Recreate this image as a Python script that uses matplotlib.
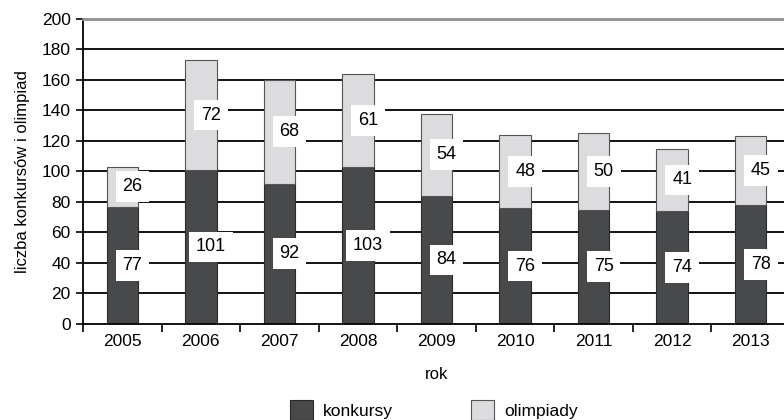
import numpy as np
import matplotlib.pyplot as plt

# dane
lata = ["2005", "2006", "2007", "2008", "2009", "2010", "2011", "2012", "2013"]
konkursy = [77, 101, 92, 103, 84, 76, 75, 74, 78]
olimpiady = [26, 72, 68, 61, 54, 48, 50, 41, 45]

c_dark = "#48494b"
c_light = "#dcdcde"

plt.rcParams["font.family"] = ["Liberation Sans", "DejaVu Sans"]
plt.rcParams["font.size"] = 12.5

fig = plt.figure(figsize=(7.84, 4.2), dpi=100)
ax = fig.add_axes([0.1059, 0.2286, 0.9015, 0.7262])

x = np.arange(len(lata))
w = 0.4
b1 = ax.bar(x, konkursy, w, color=c_dark, edgecolor="#2a2a2a", linewidth=0.8,
            zorder=2, label="konkursy")
b2 = ax.bar(x, olimpiady, w, bottom=konkursy, color=c_light, edgecolor="#555555",
            linewidth=0.8, zorder=2, label="olimpiady")

# etykiety wartości
for i in range(len(lata)):
    for val, base in ((konkursy[i], 0), (olimpiady[i], konkursy[i])):
        ax.text(x[i] + 0.13, base + val / 2, str(val), ha="center", va="center",
                fontsize=13, zorder=4,
                bbox=dict(facecolor="white", edgecolor="none", pad=5))

ax.set_xlim(-0.5, len(lata) - 0.5)
ax.set_ylim(0, 200)
ax.set_yticks(np.arange(0, 201, 20))
ax.set_xticks(x)
ax.set_xticklabels(lata)
ax.set_xticks(np.arange(-0.5, len(lata), 1.0), minor=True)
ax.tick_params(axis="x", which="major", length=0, pad=7)
ax.tick_params(axis="x", which="minor", length=6, width=1.2, direction="out")
ax.tick_params(axis="y", length=5, width=1.2, direction="out", pad=4)

for yv in range(20, 200, 20):
    ax.axhline(yv, color="black", lw=1.3, zorder=1)

ax.spines["top"].set_color("#909090")
ax.spines["top"].set_linewidth(2)
ax.spines["right"].set_visible(False)
ax.spines["left"].set_linewidth(1.3)
ax.spines["bottom"].set_linewidth(1.3)

ax.set_xlabel("rok", labelpad=13, fontsize=12)
ax.set_ylabel("liczba konkursów i olimpiad", labelpad=8, fontsize=12)

fig.legend(handles=[b1, b2], loc="center", bbox_to_anchor=(0.553, 0.024), ncol=2,
           frameon=False, handlelength=1.35, handleheight=1.35, columnspacing=4.5,
           handletextpad=0.55, fontsize=12.5)

fig.savefig("out.png", dpi=100)
